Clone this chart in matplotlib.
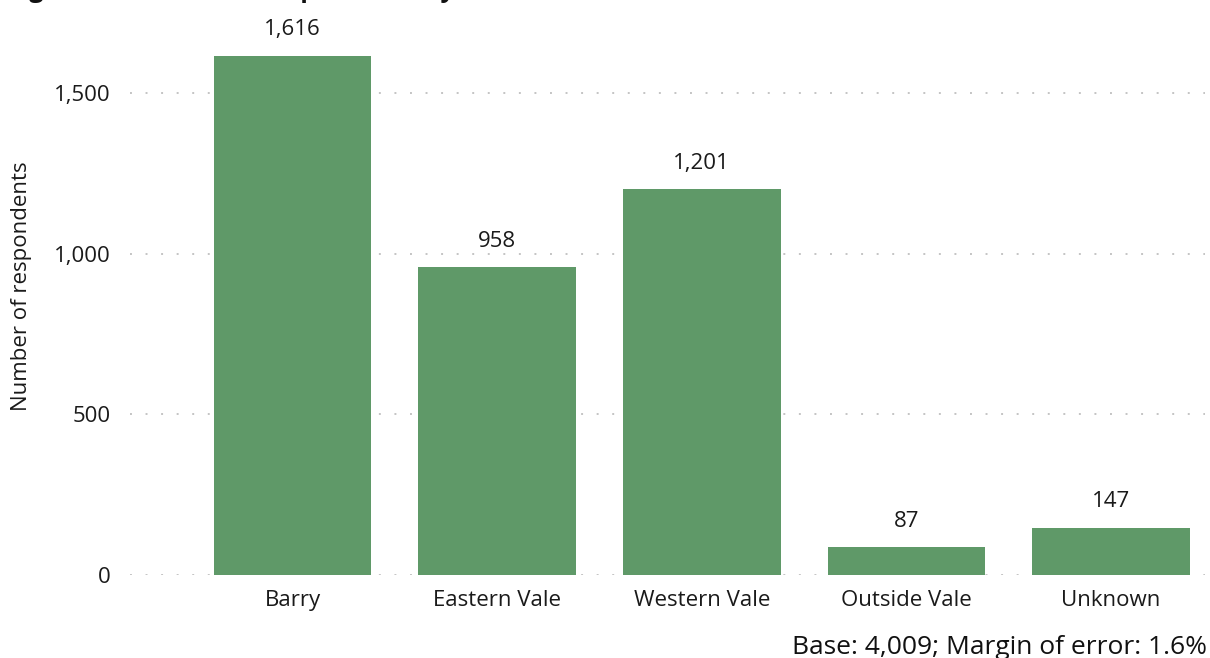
import matplotlib
matplotlib.use("Agg")
import matplotlib.pyplot as plt
from matplotlib.ticker import FuncFormatter

# Data
areas = ["Barry", "Eastern Vale", "Western Vale", "Outside Vale", "Unknown"]
respondents = [1616, 958, 1201, 87, 147]
y_ticks = [0, 500, 1000, 1500]

BAR_COLOR = "#5f9968"
plt.rcParams["font.family"] = ["Open Sans", "DejaVu Sans"]

fig = plt.figure(figsize=(12.1, 6.58), dpi=100)
ax = fig.add_axes([130 / 1210, 83 / 658, 1075 / 1210, 562 / 658])

x = range(len(areas))
bars = ax.bar(x, respondents, width=0.77, color=BAR_COLOR, zorder=3)

# value labels above each bar
for rect, val in zip(bars, respondents):
    ax.annotate(f"{val:,}", (rect.get_x() + rect.get_width() / 2, rect.get_height()),
                xytext=(0, 11), textcoords="offset points",
                ha="center", va="bottom", fontsize=16, color="#1a1a1a")

ax.set_xlim(-0.795, 4.46)
ax.set_ylim(0, 1749)
ax.set_xticks(list(x))
ax.set_xticklabels(areas, fontsize=16, color="#1a1a1a")
ax.set_yticks(y_ticks)
ax.yaxis.set_major_formatter(FuncFormatter(lambda v, p: f"{int(v):,}"))
ax.tick_params(axis="y", length=0, pad=14, labelsize=16, labelcolor="#1a1a1a")
ax.tick_params(axis="x", length=0, pad=11)

ax.yaxis.grid(True, linestyle=(0, (1, 7)), linewidth=1.4, color="#c4c4c4", zorder=0)
ax.set_axisbelow(True)
for s in ax.spines.values():
    s.set_visible(False)

fig.text(22 / 1210, 372 / 658, "Number of respondents", rotation=90,
         ha="center", va="center", fontsize=16, color="#1a1a1a")

# title sits mostly above the visible area, only descenders show
fig.text(8 / 1210, 1.0 + 3 / 658, "Figure 1: Number of respondents by area",
         ha="left", va="baseline", fontsize=18, fontweight="bold", color="#111111")

fig.text(1207 / 1210, 11 / 658, "Base: 4,009; Margin of error: 1.6%",
         ha="right", va="center", fontsize=19, color="#111111")

fig.savefig("out.png", dpi=100, facecolor="white")
